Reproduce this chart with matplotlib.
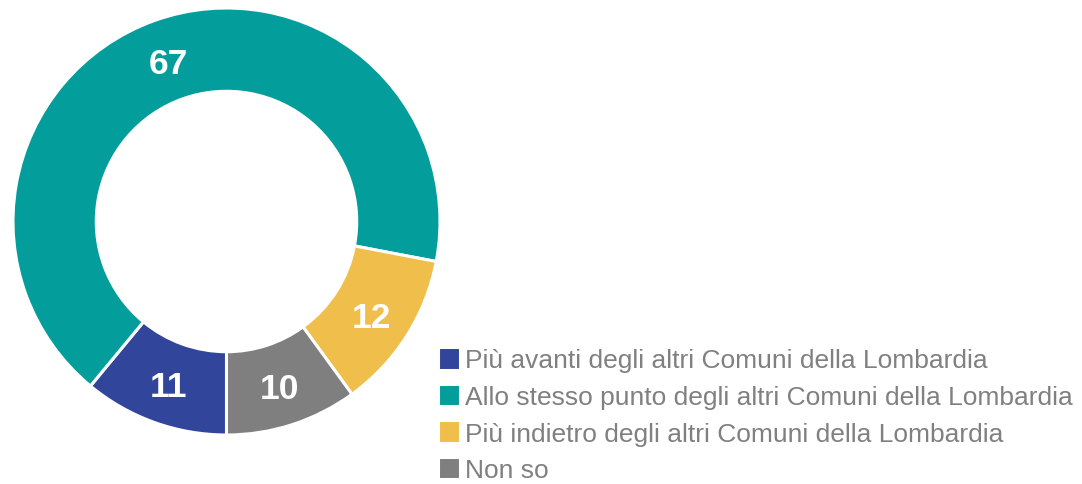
import matplotlib
matplotlib.use("Agg")
import matplotlib.pyplot as plt
import numpy as np

plt.rcParams['font.family'] = ['Liberation Sans', 'DejaVu Sans']

# Survey answers and shares (%)
categories = [
    "Più avanti degli altri Comuni della Lombardia",
    "Allo stesso punto degli altri Comuni della Lombardia",
    "Più indietro degli altri Comuni della Lombardia",
    "Non so",
]
values = [11, 67, 12, 10]
colors = ["#31469B", "#039E9B", "#F0BE4A", "#7F7F7F"]

W, H = 1082, 485
fig = plt.figure(figsize=(W / 100, H / 100), dpi=100)
fig.patch.set_facecolor("white")

# Donut axes: outer ring spans 427 px
ax = fig.add_axes([13 / W, 49 / H, 427 / W, 427 / H])
wedges, _ = ax.pie(
    values,
    colors=colors,
    startangle=270,
    counterclock=False,
    radius=1.0,
    wedgeprops=dict(width=0.39, edgecolor="white", linewidth=2.2),
)
ax.set_xlim(-1, 1)
ax.set_ylim(-1, 1)
ax.set_aspect("equal")

# Value labels at the middle of the ring
for w, v in zip(wedges, values):
    ang = np.deg2rad((w.theta1 + w.theta2) / 2)
    r = 0.805
    ax.text(r * np.cos(ang), r * np.sin(ang) - 0.016, f"{v}", ha="center", va="center",
            color="white", fontsize=25.5, fontweight="bold")

fig.legend(
    wedges, categories,
    loc="upper left",
    bbox_to_anchor=(438 / W, 1 - 348 / H),
    frameon=False,
    fontsize=19,
    labelcolor="#808080",
    handlelength=0.82,
    handleheight=0.95,
    handletextpad=0.2,
    labelspacing=0.42,
    borderpad=0,
    borderaxespad=0,
)

fig.savefig("out.png", dpi=100, facecolor="white")
